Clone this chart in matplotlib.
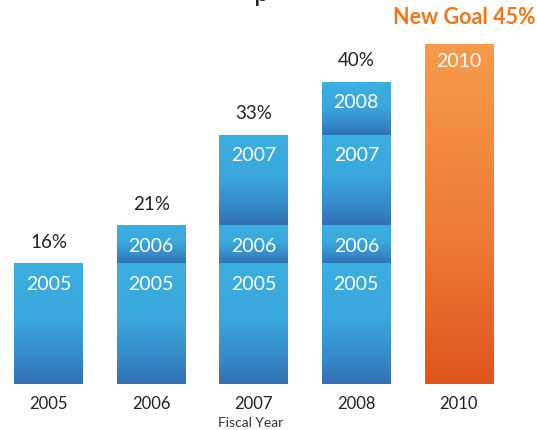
import matplotlib
matplotlib.use("Agg")
import matplotlib.pyplot as plt
import numpy as np
from matplotlib.colors import LinearSegmentedColormap

plt.rcParams['font.family'] = ['Lato', 'DejaVu Sans']

fiscal_years = ['2005', '2006', '2007', '2008', '2010']
segment_labels = ['2005', '2006', '2007', '2008']
segment_values = [16, 5, 12, 7]
totals = [16, 21, 33, 40]
goal_label = '2010'
goal_value = 45
goal_text = 'New Goal 45%'
x_title = 'Fiscal Year'

W, H, DPI = 537, 430, 100
fig = plt.figure(figsize=(W / DPI, H / DPI), dpi=DPI)
ax = fig.add_axes([0, 1 - 384 / H, 1, 377.5 / H])
ax.set_xlim(-0.473, 4.761)
ax.set_ylim(0, 50)
ax.axis('off')

blue = LinearSegmentedColormap.from_list('b', [(0, '#3CAEE0'), (0.45, '#3AA8DC'), (0.8, '#3689C7'), (1, '#3470B3')])
orange = LinearSegmentedColormap.from_list('o', [(0, '#F69A4B'), (0.5, '#EF7F38'), (1, '#E0561E')])

grad = np.linspace(0, 1, 256).reshape(-1, 1)
width = 0.67

def grad_bar(x, bottom, h, cmap):
    b = ax.bar(x, h, bottom=bottom, width=width, color='none', edgecolor='none')[0]
    im = ax.imshow(grad, cmap=cmap, aspect='auto', interpolation='bicubic', origin='upper',
                   extent=(x - width / 2, x + width / 2, bottom, bottom + h), zorder=1)
    im.set_clip_path(b)
    return b

txt_white = dict(color='white', fontsize=14, ha='center', va='center')
for i in range(len(totals)):
    bottom = 0
    for j in range(i + 1):
        grad_bar(i, bottom, segment_values[j], blue)
        ax.annotate(segment_labels[j], (i, bottom + segment_values[j]), xytext=(0, -21),
                    textcoords='offset pixels', **txt_white)
        bottom += segment_values[j]
    ax.annotate(f'{totals[i]}%', (i, totals[i]), xytext=(0, 21), textcoords='offset pixels',
                ha='center', va='center', fontsize=13.5, color='#222222')

gx = 4.0
grad_bar(gx, 0, goal_value, orange)
ax.annotate(goal_label, (gx, goal_value), xytext=(0, -17), textcoords='offset pixels', **txt_white)
ax.annotate(goal_text, (gx, goal_value), xytext=(5, 27), textcoords='offset pixels',
            ha='center', va='center', fontsize=15.5, fontweight='bold', color='#F0761C')

xs = [0, 1, 2, 3, gx]
for x, lab in zip(xs, fiscal_years):
    ax.annotate(lab, (x, 0), xytext=(0, -20), textcoords='offset pixels',
                ha='center', va='center', fontsize=12, color='#222222')
ax.annotate(x_title, (1.97, 0), xytext=(0, -39), textcoords='offset pixels',
            ha='center', va='center', fontsize=10, color='#333333')

fig.text(262 / W, 1 - 1 / H, 'p', ha='center', va='baseline', fontsize=20, color='#222222')

fig.savefig('out.png', dpi=DPI)
